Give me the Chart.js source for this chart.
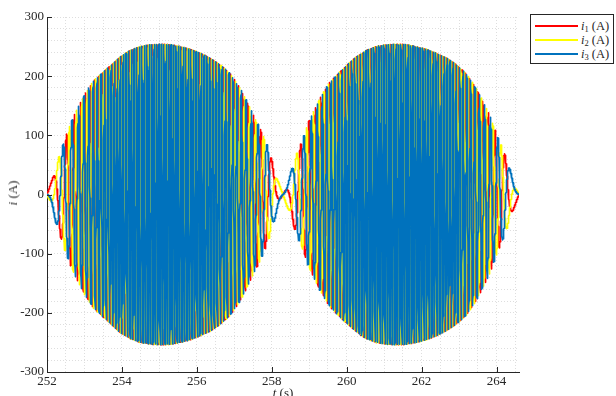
<!DOCTYPE html>
<html>
<head>
<meta charset="utf-8">
<script src="https://cdn.jsdelivr.net/npm/chart.js@4.4.1/dist/chart.umd.min.js"></script>
<style>
html,body{margin:0;padding:0;background:#fff;overflow:hidden;}
#wrap{position:relative;width:616px;height:396px;overflow:hidden;}
#c{position:absolute;left:0;top:0;}
.serif{font-family:"Liberation Serif","DejaVu Serif",serif;color:#262626;}
#ytitle{position:absolute;left:13px;top:193px;transform:translate(-50%,-50%) rotate(-90deg);font-size:13px;white-space:nowrap;}
#xtitle{position:absolute;left:283px;top:385px;transform:translateX(-50%);font-size:13px;white-space:nowrap;}
#legend{position:absolute;left:530px;top:14px;width:84px;height:50px;border:1px solid #262626;background:#fff;box-sizing:border-box;}
.row{position:absolute;left:4px;height:14px;display:flex;align-items:center;}
.sw{width:43px;height:2px;margin-right:3px;}
.lab{font-size:12.5px;line-height:14px;}
.lab sub{font-size:8.5px;line-height:0;vertical-align:-2px;}
</style>
</head>
<body>
<div id="wrap">
  <canvas id="c" width="616" height="396"></canvas>
  <div id="ytitle" class="serif"><i>i</i> (A)</div>
  <div id="xtitle" class="serif"><i>t</i> (s)</div>
  <div id="legend" class="serif"></div>
</div>
<script>
// ---------- values ----------
const seriesLabels = ['i1 (A)', 'i2 (A)', 'i3 (A)'];
const seriesSymbol = ['i', 'i', 'i'];
const seriesIndex = ['1', '2', '3'];
const seriesUnit = ['(A)', '(A)', '(A)'];
const seriesColors = ['#FF0000', '#FFFF00', '#0072BD'];
const seriesPhaseDeg = [0, -120, 120];          // three-phase order red -> yellow -> blue
const xTickLabels = [252, 254, 256, 258, 260, 262, 264];
const yTickLabels = [-300, -200, -100, 0, 100, 200, 300];

const envTime = [252.0, 252.14, 252.25, 252.36, 252.5, 252.7, 252.97, 253.23, 253.5, 253.77,
                 253.95, 254.21, 254.48, 254.75, 255.01, 255.28, 255.55, 255.81, 256.08, 256.35,
                 256.61, 256.88, 257.15, 257.41, 257.55, 257.71, 257.9, 258.05, 258.17, 258.3,
                 258.5, 258.65, 258.83, 259.0, 259.27, 259.53, 259.8, 260.07, 260.25, 260.51,
                 260.78, 261.05, 261.31, 261.58, 261.85, 262.11, 262.38, 262.65, 262.91, 263.18,
                 263.45, 263.71, 263.85, 264.01, 264.21, 264.35, 264.48, 264.6];
const envAmp = [0, 25, 50, 71, 98, 131, 165, 191, 207, 222,
                233, 243, 250, 253, 254, 253.5, 250, 246, 239, 231,
                220, 205, 180, 148, 129, 109, 80, 48, 22, 0,
                -36, -66, -94, -125, -160, -188, -206, -222, -232, -243,
                -250, -253, -254, -253.5, -250, -246, -239, -231, -220, -205,
                -180, -148, -129, -100, -70, -44, -20, 0];
// electrical frequency estimated from the spacing of successive peaks (Hz, sign = phase sequence)
const freqTime = [252.0, 252.35, 252.7, 253.05, 253.4, 253.75, 254.1, 254.45, 254.8, 255.15,
                  255.5, 255.85, 256.2, 256.55, 256.9, 257.25, 257.6, 257.95, 258.3,
                  258.65, 259.0, 259.35, 259.7, 260.05, 260.4, 260.75, 261.1, 261.45,
                  261.8, 262.15, 262.5, 262.85, 263.2, 263.55, 263.9, 264.25, 264.6];
const freqHz = [0, 2.71, 5.34, 7.80, 10.03, 11.95, 13.51, 14.66, 15.37, 15.6,
                15.37, 14.66, 13.51, 11.95, 10.03, 7.80, 5.34, 2.71, 0,
                -2.71, -5.34, -7.80, -10.03, -11.95, -13.51, -14.66, -15.37, -15.6,
                -15.37, -14.66, -13.51, -11.95, -10.03, -7.80, -5.34, -2.71, 0];
// phase of i1 at t = 252 s, read from the first small peaks (deg)
const startPhaseDeg = 70;
const tStart = 252.0, tEnd = 264.6, tStep = 0.002;

// ---------- build traces ----------
function lerpAt(xs, ys, t) {
  for (let k = 1; k < xs.length; k++) {
    if (t <= xs[k]) {
      const f = (t - xs[k - 1]) / (xs[k] - xs[k - 1]);
      return ys[k - 1] + f * (ys[k] - ys[k - 1]);
    }
  }
  return ys[ys.length - 1];
}
const traces = seriesLabels.map(() => []);
let theta = startPhaseDeg * Math.PI / 180;
let prevF = lerpAt(freqTime, freqHz, tStart);
const n = Math.round((tEnd - tStart) / tStep);
for (let s = 0; s <= n; s++) {
  const t = tStart + s * tStep;
  const a = lerpAt(envTime, envAmp, t);
  const f = lerpAt(freqTime, freqHz, t);
  if (s > 0) theta += 2 * Math.PI * 0.5 * (f + prevF) * tStep;
  prevF = f;
  for (let k = 0; k < traces.length; k++) {
    traces[k].push({x: t, y: a * Math.sin(theta + seriesPhaseDeg[k] * Math.PI / 180)});
  }
}

// ---------- legend (HTML text) ----------
const lg = document.getElementById('legend');
seriesLabels.forEach((lab, k) => {
  const row = document.createElement('div');
  row.className = 'row';
  row.style.top = (4 + 14 * k) + 'px';
  row.innerHTML = '<div class="sw" style="background:' + seriesColors[k] + '"></div>' +
    '<span class="lab"><i>' + seriesSymbol[k] + '</i><sub>' + seriesIndex[k] + '</sub> ' + seriesUnit[k] + '</span>';
  lg.appendChild(row);
});

// inward major tick marks (MATLAB style)
const inwardTicks = {
  id: 'inwardTicks',
  afterDatasetsDraw(chart) {
    const {ctx, chartArea: a, scales: {x, y}} = chart;
    ctx.save();
    ctx.strokeStyle = '#262626';
    ctx.lineWidth = 1;
    ctx.beginPath();
    xTickLabels.forEach(v => {
      const px = Math.round(x.getPixelForValue(v)) + 0.5;
      ctx.moveTo(px, a.bottom); ctx.lineTo(px, a.bottom - 5);
    });
    yTickLabels.forEach(v => {
      const py = Math.round(y.getPixelForValue(v)) + 0.5;
      ctx.moveTo(a.left, py); ctx.lineTo(a.left + 5, py);
    });
    ctx.stroke();
    ctx.restore();
  }
};

const tickFont = {family: '"Liberation Serif","DejaVu Serif",serif', size: 13};
new Chart(document.getElementById('c'), {
  type: 'line',
  data: {
    datasets: seriesLabels.map((lab, k) => ({
      label: lab,
      data: traces[k],
      borderColor: seriesColors[k],
      borderWidth: 1.7,
      pointRadius: 0,
      tension: 0,
      fill: false,
      order: seriesLabels.length - k
    }))
  },
  options: {
    responsive: false,
    animation: false,
    parsing: false,
    normalized: true,
    events: [],
    layout: {padding: {left: 0, right: 97, top: 17, bottom: 0}},
    plugins: {legend: {display: false}, tooltip: {enabled: false}},
    elements: {line: {borderJoinStyle: 'round'}},
    scales: {
      x: {
        type: 'linear', min: 252, max: 264.6,
        afterFit: s => { s.height = 24; },
        grid: {color: '#dedede', lineWidth: 1, drawTicks: false},
        border: {display: true, color: '#262626', width: 1, dash: [1, 2]},
        ticks: {
          stepSize: 0.5, includeBounds: false, autoSkip: false, maxRotation: 0, padding: 2,
          font: tickFont, color: '#262626',
          callback: v => xTickLabels.includes(v) ? String(v) : ''
        }
      },
      y: {
        type: 'linear', min: -300, max: 300,
        afterFit: s => { s.width = 47; },
        grid: {color: '#dedede', lineWidth: 1, drawTicks: false},
        border: {display: true, color: '#262626', width: 1, dash: [1, 2]},
        ticks: {
          stepSize: 20, autoSkip: false, padding: 3,
          font: tickFont, color: '#262626',
          callback: v => yTickLabels.includes(v) ? String(v) : ''
        }
      }
    }
  },
  plugins: [inwardTicks]
});
</script>
</body>
</html>
